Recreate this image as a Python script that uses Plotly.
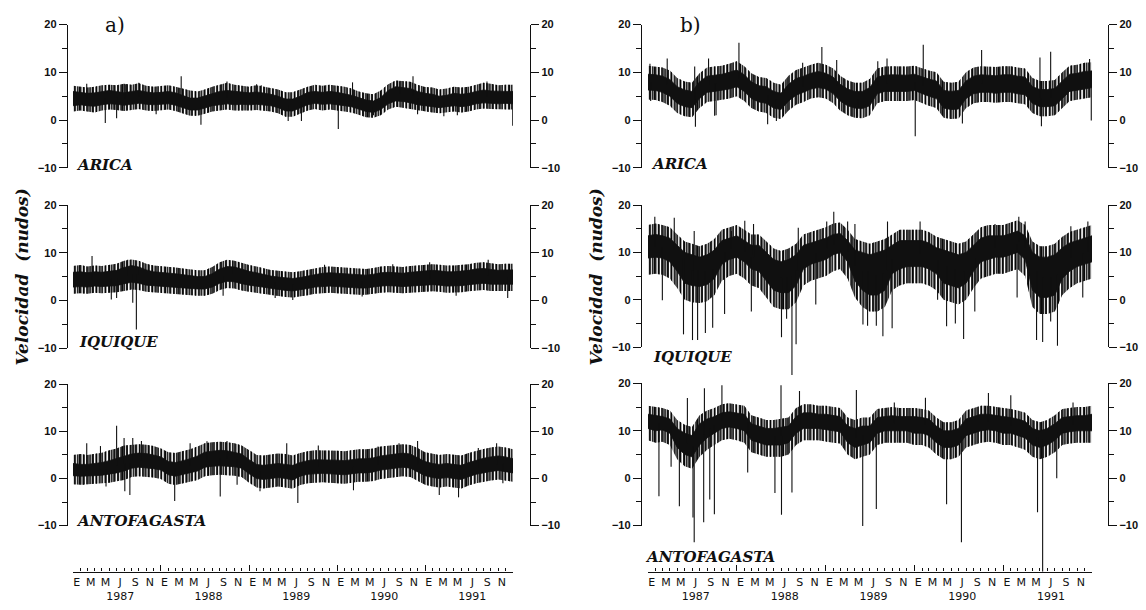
import pandas as pd
import plotly.graph_objects as go

W, H = 1146, 610

# ---------------------------------------------------------------------------
# Daily wind speed (knots) for each station, summarised at each month boundary
# (Jan 1987 .. Jan 1992): the dense core (lo / hi), the reach of the ordinary
# day-to-day scatter around it (top / bot), and isolated spikes (date, value).
# ---------------------------------------------------------------------------
years = [1987, 1988, 1989, 1990, 1991]
month_letters = ["E", "M", "M", "J", "S", "N"]   # Enero, Marzo, Mayo, Julio, Septiembre, Noviembre
stations = ["ARICA", "IQUIQUE", "ANTOFAGASTA"]

# ---- a) ------------------------------------------------------------------
a_arica_lo = [3.0, 3.2, 3.0, 2.9, 3.2, 3.4, 3.3, 3.1, 3.3, 3.5, 3.3, 3.2,
              3.3, 3.4, 3.1, 2.6, 2.1, 2.1, 2.5, 3.0, 3.2, 3.4, 3.2, 3.3,
              3.2, 3.3, 3.2, 3.0, 2.6, 1.9, 1.9, 2.5, 3.2, 3.5, 3.3, 3.4,
              3.2, 3.0, 2.8, 2.3, 1.8, 1.6, 2.2, 3.4, 4.0, 3.9, 3.6, 3.2,
              3.0, 2.8, 2.6, 2.8, 3.0, 2.8, 3.0, 3.4, 3.6, 3.5, 3.4, 3.5, 3.4]
a_arica_hi = [6.0, 5.8, 5.6, 5.7, 6.0, 6.2, 6.0, 5.7, 6.0, 6.2, 5.9, 5.7,
              5.8, 6.0, 5.7, 5.1, 4.6, 4.6, 5.1, 5.6, 6.0, 6.2, 6.0, 5.8,
              5.7, 5.9, 5.7, 5.4, 5.0, 4.4, 4.4, 5.0, 5.8, 6.0, 5.8, 6.0,
              5.8, 5.5, 5.2, 4.7, 4.2, 4.0, 4.7, 6.2, 7.0, 6.8, 6.6, 6.0,
              5.6, 5.4, 5.0, 5.2, 5.6, 5.4, 5.6, 6.0, 6.3, 6.1, 6.0, 6.0, 6.0]
a_arica_top = [7.2, 7.0, 6.8, 7.0, 7.3, 7.4, 7.3, 7.6, 7.4, 7.7, 7.2, 7.0,
               7.1, 7.3, 7.0, 6.6, 6.2, 6.0, 6.4, 7.0, 7.4, 7.8, 7.4, 7.2,
               7.0, 7.3, 7.0, 6.8, 6.4, 5.8, 5.8, 6.4, 7.0, 7.4, 7.2, 7.4,
               7.2, 7.0, 6.6, 6.0, 5.6, 5.4, 6.2, 7.5, 8.3, 8.2, 8.0, 7.4,
               6.9, 6.8, 6.4, 6.6, 7.0, 6.8, 7.0, 7.4, 7.8, 7.6, 7.3, 7.4, 7.4]
a_arica_bot = [1.8, 2.0, 1.8, 1.6, 2.0, 2.2, 2.1, 1.9, 2.1, 2.3, 2.0, 1.9,
               2.0, 2.2, 1.9, 1.4, 0.9, 0.9, 1.3, 1.8, 2.0, 2.2, 2.0, 2.0,
               2.0, 2.1, 2.0, 1.8, 1.4, 0.7, 0.7, 1.3, 2.0, 2.3, 2.0, 2.2,
               2.0, 1.8, 1.6, 1.1, 0.6, 0.5, 1.0, 2.2, 2.8, 2.6, 2.3, 2.0,
               1.8, 1.6, 1.4, 1.6, 1.8, 1.6, 1.8, 2.2, 2.4, 2.3, 2.2, 2.2, 2.2]
a_arica_spike_dates = ["1987-02-27", "1987-05-15", "1987-07-01", "1987-08-06", "1987-10-01",
                       "1987-12-12", "1988-03-25", "1988-06-15", "1988-10-01", "1989-02-01",
                       "1989-02-20", "1989-06-12", "1989-08-06", "1990-01-06", "1990-03-06",
                       "1990-06-01", "1990-09-18", "1990-11-12", "1990-12-01", "1991-03-20",
                       "1991-05-15", "1991-09-15", "1991-12-31"]
a_arica_spike_vals = [7.6, -0.6, 0.4, 7.5, 7.8,
                      1.2, 9.2, -1.0, 8.1, 7.5,
                      7.3, -0.2, -0.2, -1.9, 7.9,
                      1.0, 8.1, 9.2, 1.2, 0.8,
                      1.0, 8.1, -1.2]

a_iquique_lo = [2.8, 2.9, 2.8, 3.0, 2.9, 3.0, 3.1, 3.5, 3.8, 3.6, 3.2, 3.0,
                2.9, 2.8, 2.7, 2.6, 2.5, 2.4, 2.4, 2.8, 3.6, 4.0, 3.9, 3.5,
                3.2, 3.0, 2.7, 2.5, 2.3, 2.1, 2.0, 2.2, 2.5, 2.8, 2.9, 3.0,
                2.9, 2.8, 2.7, 2.6, 2.6, 2.8, 3.0, 3.1, 3.0, 2.9, 3.0, 3.1,
                3.2, 3.3, 3.2, 3.0, 3.0, 3.1, 3.3, 3.5, 3.6, 3.4, 3.3, 3.4, 3.4]
a_iquique_hi = [5.9, 6.0, 5.8, 6.0, 5.9, 6.1, 6.3, 6.9, 7.3, 7.0, 6.4, 6.0,
                5.9, 5.7, 5.6, 5.4, 5.2, 5.0, 5.0, 5.6, 6.6, 7.1, 7.0, 6.5,
                6.1, 5.8, 5.4, 5.1, 4.9, 4.7, 4.6, 4.8, 5.1, 5.5, 5.7, 5.8,
                5.7, 5.5, 5.4, 5.3, 5.3, 5.5, 5.8, 5.9, 5.8, 5.7, 5.9, 6.0,
                6.1, 6.3, 6.2, 6.0, 6.0, 6.1, 6.3, 6.6, 6.7, 6.5, 6.3, 6.4, 6.4]
a_iquique_top = [7.2, 7.4, 7.1, 7.3, 7.2, 7.5, 7.7, 8.3, 8.6, 8.3, 7.7, 7.3,
                 7.2, 7.0, 6.9, 6.7, 6.5, 6.3, 6.3, 7.0, 8.0, 8.5, 8.3, 7.8,
                 7.4, 7.1, 6.7, 6.4, 6.2, 6.0, 5.9, 6.1, 6.4, 6.8, 7.0, 7.1,
                 7.0, 6.8, 6.7, 6.6, 6.6, 6.8, 7.1, 7.2, 7.1, 7.0, 7.2, 7.3,
                 7.4, 7.6, 7.5, 7.3, 7.3, 7.4, 7.6, 7.9, 8.0, 7.8, 7.6, 7.7, 7.7]
a_iquique_bot = [1.4, 1.5, 1.4, 1.6, 1.5, 1.6, 1.7, 2.0, 2.3, 2.2, 1.8, 1.6,
                 1.5, 1.4, 1.3, 1.2, 1.1, 1.0, 1.0, 1.4, 2.2, 2.6, 2.5, 2.1,
                 1.8, 1.6, 1.3, 1.1, 0.9, 0.7, 0.6, 0.8, 1.1, 1.4, 1.5, 1.6,
                 1.5, 1.4, 1.3, 1.2, 1.2, 1.4, 1.6, 1.7, 1.6, 1.5, 1.6, 1.7,
                 1.8, 1.9, 1.8, 1.6, 1.6, 1.7, 1.9, 2.1, 2.2, 2.0, 1.9, 2.0, 2.0]
a_iquique_spike_dates = ["1987-03-21", "1987-06-09", "1987-07-01", "1987-08-16", "1987-09-06",
                         "1987-09-21", "1987-10-04", "1988-09-15", "1988-10-25", "1989-04-19",
                         "1989-07-01", "1989-11-10", "1990-04-15", "1990-08-20", "1991-01-20",
                         "1991-05-10", "1991-09-20", "1991-12-10"]
a_iquique_spike_vals = [9.3, 0.2, 0.5, 8.5, -0.5,
                        -6.1, 8.0, 1.0, 8.3, 0.5,
                        0.1, 7.5, 0.8, 7.6, 8.0,
                        1.0, 8.5, 0.5]

a_antof_lo = [0.6, 0.5, 0.5, 0.6, 0.7, 0.9, 1.2, 1.6, 2.2, 2.4, 2.3, 2.1,
              1.8, 0.8, 0.5, 0.9, 1.2, 1.6, 2.4, 2.6, 2.7, 2.6, 2.5, 2.2,
              1.0, 0.0, -0.2, 0.0, 0.2, 0.0, -0.3, 0.5, 0.9, 1.0, 1.1, 1.0,
              0.9, 0.8, 1.0, 1.2, 1.2, 1.4, 1.8, 2.0, 2.2, 2.4, 2.2, 1.5,
              0.6, 0.2, 0.0, 0.2, 0.0, -0.2, 0.4, 0.9, 1.2, 1.5, 1.7, 1.5, 1.2]
a_antof_hi = [3.2, 3.0, 3.0, 3.2, 3.4, 3.8, 4.3, 4.8, 5.2, 5.4, 5.3, 5.0,
              4.6, 3.6, 3.4, 3.8, 4.2, 4.8, 5.6, 5.8, 6.0, 5.9, 5.6, 5.2,
              4.0, 3.0, 2.8, 3.0, 3.2, 3.0, 2.8, 3.4, 3.8, 4.0, 4.0, 4.0,
              3.9, 3.8, 4.0, 4.2, 4.2, 4.4, 4.8, 5.0, 5.2, 5.4, 5.2, 4.5,
              3.6, 3.2, 3.0, 3.2, 3.0, 2.8, 3.4, 3.9, 4.3, 4.6, 4.8, 4.6, 4.2]
a_antof_top = [5.0, 5.2, 5.0, 5.3, 5.5, 6.0, 6.4, 7.0, 7.2, 7.3, 7.2, 6.9,
               6.4, 5.6, 5.4, 5.8, 6.2, 6.8, 7.5, 7.7, 7.8, 7.7, 7.5, 7.0,
               6.0, 5.0, 4.9, 5.1, 5.3, 5.2, 4.9, 5.4, 5.8, 6.0, 6.0, 6.0,
               5.9, 5.8, 6.0, 6.2, 6.2, 6.4, 6.8, 7.0, 7.2, 7.3, 7.1, 6.5,
               5.6, 5.2, 5.0, 5.2, 5.0, 4.9, 5.4, 5.9, 6.3, 6.6, 6.8, 6.6, 6.2]
a_antof_bot = [-1.2, -1.3, -1.2, -1.1, -1.0, -0.9, -0.6, -0.3, 0.3, 0.5, 0.4, 0.2,
               -0.1, -1.1, -1.4, -1.0, -0.7, -0.3, 0.5, 0.7, 0.8, 0.7, 0.6, 0.3,
               -0.9, -1.9, -2.1, -1.9, -1.7, -1.9, -2.2, -1.4, -1.0, -0.9, -0.8, -0.9,
               -1.0, -1.1, -0.9, -0.7, -0.7, -0.5, -0.1, 0.1, 0.3, 0.5, 0.3, -0.4,
               -1.3, -1.7, -1.9, -1.7, -1.9, -2.1, -1.5, -1.0, -0.7, -0.4, -0.2, -0.4, -0.7]
a_antof_spike_dates = ["1987-02-12", "1987-02-27", "1987-04-25", "1987-05-18", "1987-07-01",
                       "1987-08-01", "1987-08-04", "1987-08-25", "1987-09-06", "1987-10-12",
                       "1988-02-27", "1988-05-01", "1988-07-10", "1988-09-03", "1988-10-01",
                       "1988-11-12", "1989-02-15", "1989-06-06", "1989-07-22", "1989-10-15",
                       "1990-03-10", "1990-06-20", "1990-09-15", "1990-12-01", "1991-03-01",
                       "1991-05-20", "1991-08-10", "1991-10-25", "1991-11-20"]
a_antof_spike_vals = [-1.3, 7.5, 6.9, -1.7, 11.2,
                      8.6, -2.7, -3.5, 8.6, 8.0,
                      -4.8, 7.5, 7.9, -3.8, 8.0,
                      -1.3, -2.7, 7.5, -5.2, 7.0,
                      -2.5, 6.8, 7.5, 8.0, -3.5,
                      -4.0, 6.5, 7.5, -1.0]

# ---- b) ------------------------------------------------------------------
b_arica_lo = [6.3, 6.2, 5.8, 5.0, 3.5, 2.8, 2.6, 4.5, 5.8, 6.0, 6.2, 6.5,
              7.0, 6.0, 4.5, 3.8, 3.5, 2.5, 2.2, 4.0, 5.2, 5.8, 6.5, 6.8,
              6.5, 5.5, 4.0, 3.0, 2.5, 2.4, 3.0, 5.5, 6.0, 6.0, 6.0, 6.0,
              6.2, 5.5, 5.0, 4.5, 2.5, 2.2, 2.3, 4.5, 5.5, 5.8, 5.8, 5.6,
              5.8, 5.8, 5.5, 5.3, 3.5, 2.8, 2.8, 3.0, 4.5, 6.0, 6.3, 6.5, 6.8]
b_arica_hi = [9.6, 9.5, 9.2, 8.5, 7.0, 6.3, 6.0, 8.0, 9.2, 9.4, 9.6, 10.0,
              10.5, 9.5, 8.0, 7.2, 7.0, 6.0, 5.6, 7.5, 8.7, 9.2, 9.8, 10.2,
              9.8, 9.0, 7.5, 6.5, 6.0, 6.0, 6.8, 9.0, 9.4, 9.5, 9.4, 9.4,
              9.6, 9.0, 8.6, 8.2, 6.2, 6.0, 6.2, 8.2, 9.2, 9.5, 9.4, 9.3,
              9.5, 9.5, 9.2, 9.0, 7.0, 6.4, 6.4, 6.6, 8.2, 9.6, 9.8, 10.2, 10.3]
b_arica_top = [11.4, 11.2, 11.0, 10.4, 8.8, 8.1, 7.8, 9.8, 11.0, 11.2, 11.4, 11.8,
               12.3, 11.3, 9.8, 9.0, 8.8, 7.8, 7.4, 9.3, 10.5, 11.0, 11.6, 12.0,
               11.6, 10.8, 9.3, 8.3, 7.8, 7.8, 8.6, 10.8, 11.2, 11.3, 11.2, 11.2,
               11.4, 10.8, 10.4, 10.0, 8.0, 7.8, 8.0, 10.0, 11.0, 11.3, 11.2, 11.1,
               11.3, 11.3, 11.0, 10.8, 8.8, 8.2, 8.2, 8.4, 10.0, 11.4, 11.6, 12.0, 12.1]
b_arica_bot = [4.3, 4.2, 3.8, 3.0, 1.5, 0.8, 0.6, 2.5, 3.8, 4.0, 4.2, 4.5,
               5.0, 4.0, 2.5, 1.8, 1.5, 0.5, 0.2, 2.0, 3.2, 3.8, 4.5, 4.8,
               4.5, 3.5, 2.0, 1.0, 0.5, 0.4, 1.0, 3.5, 4.0, 4.0, 4.0, 4.0,
               4.2, 3.5, 3.0, 2.5, 0.5, 0.2, 0.3, 2.5, 3.5, 3.8, 3.8, 3.6,
               3.8, 3.8, 3.5, 3.3, 1.5, 0.8, 0.8, 1.0, 2.5, 4.0, 4.3, 4.5, 4.8]
b_arica_spike_dates = ["1987-01-09", "1987-01-12", "1987-03-21", "1987-07-12", "1987-07-15",
                       "1987-09-07", "1987-10-02", "1987-10-08", "1988-01-10", "1988-05-07",
                       "1988-06-12", "1988-09-28", "1988-12-16", "1989-02-15", "1989-05-12",
                       "1989-08-03", "1989-09-10", "1990-01-04", "1990-02-06", "1990-07-17",
                       "1990-10-04", "1991-06-01", "1991-06-07", "1991-07-15", "1991-12-22",
                       "1991-12-29"]
b_arica_spike_vals = [11.8, 4.0, 12.9, 11.2, -1.4,
                      12.9, 0.9, 1.0, 16.2, -0.9,
                      -0.2, 12.0, 15.3, 12.6, 0.7,
                      12.3, 12.9, -3.4, 15.8, -0.7,
                      14.7, 13.1, -1.3, 14.3, 12.8,
                      -0.1]

b_iquique_lo = [8.8, 9.0, 8.8, 8.0, 6.0, 3.5, 3.0, 2.8, 3.2, 4.5, 7.5, 8.5,
                9.0, 8.0, 6.5, 6.0, 4.0, 2.0, 1.5, 1.5, 3.0, 6.5, 7.5, 8.0,
                8.5, 9.5, 10.0, 8.0, 4.0, 2.0, 1.0, 1.0, 2.0, 5.5, 6.5, 7.0,
                7.0, 7.0, 6.5, 5.5, 3.5, 3.0, 2.5, 3.5, 6.0, 8.0, 8.5, 9.0,
                9.0, 9.5, 10.0, 8.5, 2.0, 0.5, 0.5, 1.0, 4.5, 6.0, 7.0, 7.5, 8.0]
b_iquique_hi = [13.5, 13.8, 13.5, 13.0, 11.5, 10.0, 9.5, 9.0, 9.5, 10.5, 12.5, 13.0,
                13.5, 12.5, 11.5, 11.5, 10.0, 8.5, 8.0, 8.5, 9.5, 11.5, 12.0, 12.5,
                13.0, 13.8, 14.0, 12.5, 10.5, 10.0, 9.5, 10.0, 10.5, 11.5, 12.5, 12.5,
                12.5, 12.5, 12.0, 11.0, 10.5, 10.0, 9.5, 10.0, 11.5, 13.0, 13.5, 13.5,
                13.5, 14.0, 14.5, 13.5, 10.0, 9.0, 9.0, 9.5, 11.0, 12.0, 12.5, 13.0, 13.5]
b_iquique_top = [15.8, 16.1, 15.8, 15.3, 13.8, 12.3, 11.8, 11.3, 11.8, 12.8, 14.8, 15.3,
                 15.8, 14.8, 13.8, 13.8, 12.3, 10.8, 10.3, 10.8, 11.8, 13.8, 14.3, 14.8,
                 15.3, 16.1, 16.3, 14.8, 12.8, 12.3, 11.8, 12.3, 12.8, 13.8, 14.8, 14.8,
                 14.8, 14.8, 14.3, 13.3, 12.8, 12.3, 11.8, 12.3, 13.8, 15.3, 15.8, 15.8,
                 15.8, 16.3, 16.8, 15.8, 12.3, 11.3, 11.3, 11.8, 13.3, 14.3, 14.8, 15.3, 15.8]
b_iquique_bot = [5.3, 5.5, 5.3, 4.5, 2.5, 0.0, -0.5, -0.7, -0.3, 1.0, 4.0, 5.0,
                 5.5, 4.5, 3.0, 2.5, 0.5, -1.5, -2.0, -2.0, -0.5, 3.0, 4.0, 4.5,
                 5.0, 6.0, 6.5, 4.5, 0.5, -1.5, -2.5, -2.5, -1.5, 2.0, 3.0, 3.5,
                 3.5, 3.5, 3.0, 2.0, 0.0, -0.5, -1.0, 0.0, 2.5, 4.5, 5.0, 5.5,
                 5.5, 6.0, 6.5, 5.0, -1.5, -3.0, -3.0, -2.5, 1.0, 2.5, 3.5, 4.0, 4.5]
b_iquique_spike_dates = ["1987-01-29", "1987-03-01", "1987-04-19", "1987-05-27", "1987-07-03",
                         "1987-07-10", "1987-07-24", "1987-08-25", "1987-09-24", "1987-11-12",
                         "1987-12-10", "1988-02-03", "1988-03-01", "1988-03-10", "1988-07-03",
                         "1988-07-24", "1988-08-15", "1988-09-01", "1988-09-10", "1988-11-21",
                         "1989-01-05", "1989-02-03", "1989-04-01", "1989-05-01", "1989-06-03",
                         "1989-06-22", "1989-07-28", "1989-08-24", "1989-09-12", "1989-10-01",
                         "1990-01-24", "1990-04-06", "1990-05-13", "1990-06-18", "1990-07-22",
                         "1990-09-06", "1990-11-28", "1991-02-27", "1991-03-06", "1991-04-01",
                         "1991-05-18", "1991-06-12", "1991-07-15", "1991-08-12", "1991-10-06",
                         "1991-11-24", "1991-12-15"]
b_iquique_spike_vals = [17.5, -0.1, 17.3, -7.3, -8.5,
                        14.5, -8.5, -7.0, -5.9, -3.0,
                        14.5, 16.7, -2.5, 16.0, -7.9,
                        -4.0, -15.9, -9.4, 15.2, -1.0,
                        16.5, 18.6, 16.5, 16.0, -5.2,
                        -5.5, -5.5, -7.7, 16.5, -6.0,
                        16.5, 0.0, -5.6, -5.0, -8.3,
                        -2.5, 16.0, 0.5, 17.5, 16.5,
                        -8.5, -8.9, -4.6, -9.7, 15.5,
                        0.5, 16.5]

b_antof_lo = [10.5, 10.0, 10.2, 9.5, 6.5, 5.0, 4.5, 7.0, 8.5, 9.5, 10.5, 10.8,
              10.5, 10.0, 8.0, 7.5, 7.0, 7.0, 7.0, 7.5, 9.5, 10.5, 10.5, 10.5,
              10.2, 10.0, 9.8, 7.5, 6.5, 7.0, 7.5, 9.5, 10.0, 10.0, 10.0, 10.0,
              9.5, 9.5, 9.0, 7.5, 6.5, 6.5, 7.0, 9.0, 9.5, 10.0, 10.2, 10.0,
              9.5, 9.5, 9.0, 8.5, 7.0, 6.5, 7.0, 8.0, 9.5, 9.8, 10.0, 10.0, 10.0]
b_antof_hi = [13.5, 13.2, 13.0, 12.5, 10.5, 9.5, 9.0, 11.5, 12.5, 13.0, 13.8, 14.0,
              13.8, 13.5, 11.5, 11.0, 10.5, 10.5, 10.8, 11.0, 13.0, 13.8, 13.8, 13.5,
              13.5, 13.2, 13.0, 11.0, 10.5, 11.0, 11.0, 12.8, 13.0, 13.2, 13.0, 13.0,
              13.0, 12.8, 12.5, 11.0, 10.0, 10.0, 10.5, 12.5, 13.0, 13.5, 13.5, 13.2,
              13.0, 12.8, 12.5, 12.0, 10.5, 10.0, 10.5, 11.5, 12.8, 13.0, 13.2, 13.2, 13.5]
b_antof_top = [15.3, 15.0, 14.8, 14.3, 12.3, 11.3, 10.8, 13.3, 14.3, 14.8, 15.6, 15.8,
               15.6, 15.3, 13.3, 12.8, 12.3, 12.3, 12.6, 12.8, 14.8, 15.6, 15.6, 15.3,
               15.3, 15.0, 14.8, 12.8, 12.3, 12.8, 12.8, 14.6, 14.8, 15.0, 14.8, 14.8,
               14.8, 14.6, 14.3, 12.8, 11.8, 11.8, 12.3, 14.3, 14.8, 15.3, 15.3, 15.0,
               14.8, 14.6, 14.3, 13.8, 12.3, 11.8, 12.3, 13.3, 14.6, 14.8, 15.0, 15.0, 15.3]
b_antof_bot = [8.0, 7.5, 7.7, 7.0, 4.0, 2.5, 2.0, 4.5, 6.0, 7.0, 8.0, 8.3,
               8.0, 7.5, 5.5, 5.0, 4.5, 4.5, 4.5, 5.0, 7.0, 8.0, 8.0, 8.0,
               7.7, 7.5, 7.3, 5.0, 4.0, 4.5, 5.0, 7.0, 7.5, 7.5, 7.5, 7.5,
               7.0, 7.0, 6.5, 5.0, 4.0, 4.0, 4.5, 6.5, 7.0, 7.5, 7.7, 7.5,
               7.0, 7.0, 6.5, 6.0, 4.5, 4.0, 4.5, 5.5, 7.0, 7.3, 7.5, 7.5, 7.5]
b_antof_spike_dates = ["1987-02-15", "1987-04-06", "1987-05-10", "1987-06-12", "1987-07-05",
                       "1987-07-10", "1987-08-18", "1987-08-21", "1987-09-12", "1987-10-01",
                       "1987-11-01", "1988-02-15", "1988-06-06", "1988-07-01", "1988-07-03",
                       "1988-08-15", "1988-09-15", "1989-05-07", "1989-06-02", "1989-07-28",
                       "1989-10-10", "1990-02-15", "1990-05-13", "1990-07-13", "1990-11-01",
                       "1991-02-01", "1991-05-22", "1991-06-12", "1991-08-09", "1991-10-15"]
b_antof_spike_vals = [-3.8, 2.4, -5.9, 16.9, -8.3,
                      -13.5, -9.3, 19.0, -4.5, -7.6,
                      19.6, 1.2, -3.1, 19.6, -7.7,
                      -3.0, 18.4, 18.6, -10.1, -6.5,
                      16.0, 17.0, -5.5, -13.5, 18.0,
                      17.5, -7.2, -19.7, 0.0, 16.0]

# ---------------------------------------------------------------------------
# Layout geometry (pixels)
# ---------------------------------------------------------------------------
col_x = [(73, 513), (648, 1092)]          # data span of each column
col_axis_x = [(67, 530), (641, 1108)]     # left / right value axes
panel_y = [[(19, 165), (203, 349), (386, 530)],
           [(19, 165), (203, 348), (385, 530)]]   # pixel rows of +20 and -10
time_axis_y = 577
data_span = 22.0

t0, t1 = "1987-01-01", "1992-01-01"
edges = pd.date_range(t0, t1, freq="MS")

panels = [
    [(a_arica_lo, a_arica_hi, a_arica_top, a_arica_bot, a_arica_spike_dates, a_arica_spike_vals),
     (a_iquique_lo, a_iquique_hi, a_iquique_top, a_iquique_bot, a_iquique_spike_dates, a_iquique_spike_vals),
     (a_antof_lo, a_antof_hi, a_antof_top, a_antof_bot, a_antof_spike_dates, a_antof_spike_vals)],
    [(b_arica_lo, b_arica_hi, b_arica_top, b_arica_bot, b_arica_spike_dates, b_arica_spike_vals),
     (b_iquique_lo, b_iquique_hi, b_iquique_top, b_iquique_bot, b_iquique_spike_dates, b_iquique_spike_vals),
     (b_antof_lo, b_antof_hi, b_antof_top, b_antof_bot, b_antof_spike_dates, b_antof_spike_vals)],
]


def fx(px):
    return px / W


def fy(py):
    return 1 - py / H


ink = "#101010"
fig = go.Figure()
layout = dict(width=W, height=H, margin=dict(l=0, r=0, t=0, b=0),
              paper_bgcolor="white", plot_bgcolor="rgba(0,0,0,0)",
              showlegend=False, annotations=[])

tick_font = dict(family="Liberation Sans", size=11, color=ink, weight="bold")

# time axes (bottom) and their label overlays
for c in range(2):
    xa = "x" if c == 0 else "x2"
    lab = 3 + c
    layout["xaxis" if c == 0 else "xaxis2"] = dict(
        domain=[fx(col_x[c][0]), fx(col_x[c][1])], range=[t0, t1], type="date",
        anchor="free", position=fy(time_axis_y), showline=True, linecolor=ink,
        linewidth=1.4, ticks="inside", tickvals=[f"{y}-01-01" for y in years + [1992]],
        ticklen=6, tickwidth=1.4, tickcolor=ink, showticklabels=False,
        showgrid=False, zeroline=False,
        minor=dict(dtick="M1", tick0=t0, ticks="inside", ticklen=3, tickwidth=1,
                   tickcolor=ink, showgrid=False))
    tv, tt = [], []
    for y in years:
        for k, m in enumerate([1, 3, 5, 7, 9, 11]):
            tv.append(f"{y}-{m:02d}-16")
            tt.append(month_letters[k] + (f"<br>{y}" if m == 7 else ""))
    layout[f"xaxis{lab}"] = dict(
        overlaying=xa, anchor="free", position=fy(time_axis_y), range=[t0, t1],
        type="date", showline=False, ticks="", tickvals=tv, ticktext=tt,
        tickangle=0, ticklabelstandoff=2,
        tickfont=dict(family="DejaVu Sans", size=11, color=ink),
        showgrid=False, zeroline=False)
    fig.add_trace(go.Scatter(x=[None], y=[None], xaxis=f"x{lab}", yaxis="y",
                             hoverinfo="skip", showlegend=False))

# station panels
for c in range(2):
    xa = "x" if c == 0 else "x2"
    for r in range(3):
        k = c * 3 + r + 1
        top, bot = panel_y[c][r]
        ppu = (bot - top) / 30.0
        py_hi = top + (20 - data_span) * ppu
        py_lo = top + (20 + data_span) * ppu
        layout["yaxis" if k == 1 else f"yaxis{k}"] = dict(
            domain=[fy(py_lo), fy(py_hi)], range=[-data_span, data_span],
            anchor=xa, visible=False, showgrid=False, zeroline=False)

        lo, hi, tp, bt, sd, sv = panels[c][r]
        ya = "y" if k == 1 else f"y{k}"
        ring_x = list(edges) + list(edges[::-1])
        # day-to-day scatter: two overlaid vertical hatchings of different pitch
        for pitch, sol in [(3.1, 0.42), (4.3, 0.34)]:
            fig.add_trace(go.Scatter(
                x=ring_x, y=list(tp) + list(bt[::-1]),
                xaxis=xa, yaxis=ya, mode="lines", fill="toself",
                fillcolor="rgba(255,255,255,0)",
                fillpattern=dict(shape="|", size=pitch, solidity=sol, fgcolor="#000000",
                                 bgcolor="rgba(255,255,255,0)", fillmode="replace"),
                line=dict(width=0), hoverinfo="skip", showlegend=False))
        # dense core
        fig.add_trace(go.Scatter(
            x=ring_x, y=list(hi) + list(lo[::-1]),
            xaxis=xa, yaxis=ya, mode="lines", fill="toself", fillcolor=ink,
            line=dict(color=ink, width=0.8), hoverinfo="skip", showlegend=False))
        # isolated spikes from the core
        xs, ys = [], []
        for d, v in zip(sd, sv):
            ts = pd.Timestamp(d)
            i = (ts.year - 1987) * 12 + ts.month - 1
            base = (lo[i] + hi[i]) / 2
            xs += [ts, ts, None]
            ys += [base, v, None]
        fig.add_trace(go.Scatter(x=xs, y=ys, xaxis=xa, yaxis=ya, mode="lines",
                                 line=dict(color=ink, width=1.1),
                                 hoverinfo="skip", showlegend=False))

        # visible value axes on both sides
        for s, side in enumerate(["left", "right"]):
            n = 6 + k + 6 * s
            layout[f"yaxis{n}"] = dict(
                domain=[fy(bot), fy(top)], range=[-10, 20], anchor="free",
                position=fx(col_axis_x[c][s]), side=side, showline=True,
                linecolor=ink, linewidth=1.4, ticks="outside",
                tickvals=[-10, 0, 10, 20], ticktext=["\u221210", "0", "10", "20"],
                ticklen=8, tickwidth=1.4, tickcolor=ink, tickfont=tick_font,
                minor=dict(tickvals=[-5, 5, 15], ticks="outside", ticklen=5,
                           tickwidth=1.4, tickcolor=ink),
                showgrid=False, zeroline=False)
            fig.add_trace(go.Scatter(x=[None], y=[None], xaxis=xa, yaxis=f"y{n}",
                                     hoverinfo="skip", showlegend=False))

# station names
name_pos = [[(74, 162), (77, 343), (74, 525)],
            [(649, 161), (651, 358), (643, 562)]]
for c in range(2):
    for r in range(3):
        px, py = name_pos[c][r]
        layout["annotations"].append(dict(
            text=f"<b><i>{stations[r]}</i></b>", x=fx(px), y=fy(py),
            xref="paper", yref="paper", xanchor="left", yanchor="middle",
            showarrow=False, font=dict(family="DejaVu Serif", size=15, color=ink)))

# panel letters and value-axis titles
for txt, px in [("a)", 115), ("b)", 690)]:
    layout["annotations"].append(dict(
        text=txt, x=fx(px), y=fy(19), xref="paper", yref="paper",
        xanchor="center", yanchor="middle", showarrow=False,
        font=dict(family="DejaVu Serif", size=20, color=ink)))
for px in [22, 596]:
    layout["annotations"].append(dict(
        text="<b><i>Velocidad  (nudos)</i></b>", x=fx(px), y=fy(277),
        xref="paper", yref="paper", xanchor="center", yanchor="middle",
        textangle=-90, showarrow=False,
        font=dict(family="DejaVu Serif", size=17, color=ink)))

fig.update_layout(**layout)
fig.write_html("out.html")
